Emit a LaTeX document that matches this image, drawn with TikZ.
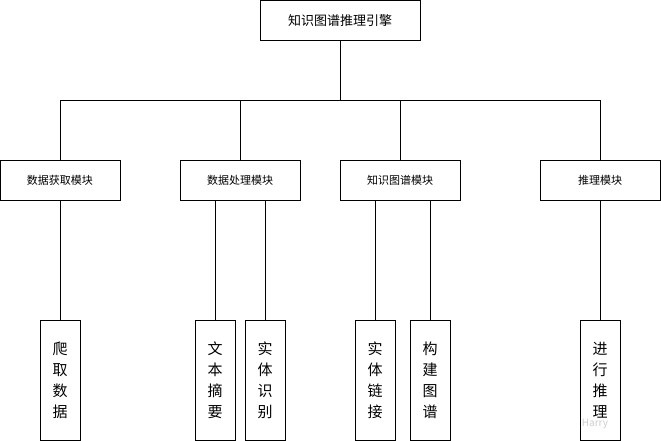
\documentclass[tikz,border=0pt]{standalone}
\usepackage{fontspec}
\setmainfont{Noto Sans CJK SC}
\begin{document}
\begin{tikzpicture}[x=1pt,y=-1pt,
  box/.style={draw,thick,minimum height=40pt,inner sep=0pt,font=\fontsize{11}{13}\selectfont},
  leaf/.style={draw,thick,minimum width=40pt,minimum height=120pt,inner sep=0pt,align=center,font=\fontsize{15}{21}\selectfont},
  ln/.style={thick}]
\useasboundingbox (0,0) rectangle (661,441);
\node[box,minimum width=160pt,font=\fontsize{13}{15}\selectfont] (top) at (340,20.5) {知识图谱推理引擎};
\node[box,minimum width=120pt] (m1) at (60,180) {数据获取模块};
\node[box,minimum width=120pt] (m2) at (240,180) {数据处理模块};
\node[box,minimum width=120pt] (m3) at (400,180) {知识图谱模块};
\node[box,minimum width=120pt] (m4) at (600,180) {推理模块};
\node[leaf] (l1) at (60,380) {爬\\取\\数\\据};
\node[leaf] (l2) at (215,380) {文\\本\\摘\\要};
\node[leaf] (l3) at (265,380) {实\\体\\识\\别};
\node[leaf] (l4) at (375,380) {实\\体\\链\\接};
\node[leaf] (l5) at (430,380) {构\\建\\图\\谱};
\node[leaf] (l6) at (600,380) {进\\行\\推\\理};
\coordinate (h) at (340,100);
\draw[ln] (top.south) -- (h);
\foreach \m in {m1,m2,m3,m4} \draw[ln] (h) -| (\m.north);
\draw[ln] (m1.south) -- (l1.north);
\draw[ln] (m2.south -| l2.north) -- (l2.north);
\draw[ln] (m2.south -| l3.north) -- (l3.north);
\draw[ln] (m3.south -| l4.north) -- (l4.north);
\draw[ln] (m3.south -| l5.north) -- (l5.north);
\draw[ln] (m4.south) -- (l6.north);
\node[text=black!20,font=\fontsize{10}{12}\selectfont] (wm) at (595,424) {Harry};
\end{tikzpicture}
\end{document}
